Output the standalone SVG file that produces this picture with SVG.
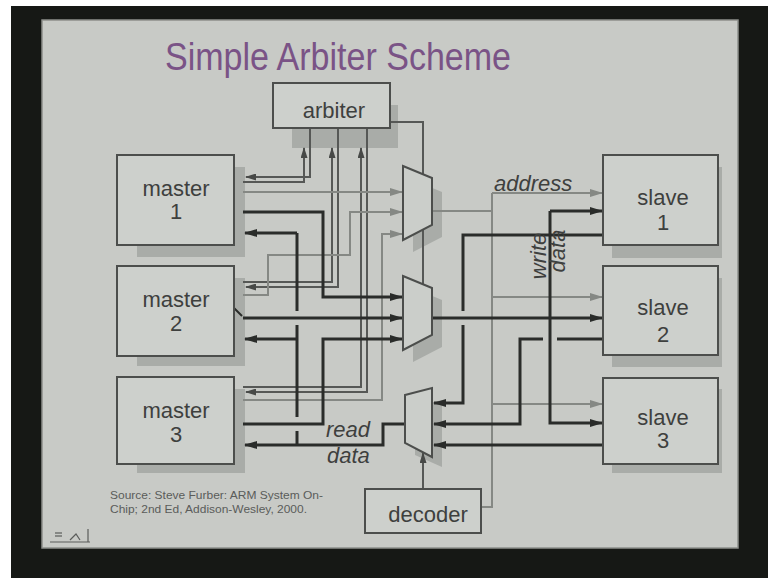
<svg xmlns="http://www.w3.org/2000/svg" width="768" height="578" viewBox="0 0 768 578">
  <defs>
    <style>
      .box { fill: #cdd0cc; stroke: #4c4e4c; stroke-width: 2; }
      .shadow { fill: #a9aca8; }
      .mux { fill: #cbcecA; stroke: #4c4e4c; stroke-width: 2; stroke-linejoin: miter; }
      .lbl { font-family: "Liberation Sans", Arial, sans-serif; font-size: 22px; fill: #3e403e; text-anchor: middle; }
      .ital { font-family: "Liberation Sans", Arial, sans-serif; font-size: 22px; font-style: italic; fill: #3e403e; }
      .data { fill: none; stroke: #2a2c2a; stroke-width: 3; stroke-linejoin: miter; }
      .addr { fill: none; stroke: #858884; stroke-width: 2; stroke-linejoin: miter; }
      .ctl { fill: none; stroke: #565856; stroke-width: 2; stroke-linejoin: miter; }
      .src { font-family: "Liberation Sans", Arial, sans-serif; font-size: 11px; fill: #5a5c5a; }
    </style>
    <marker id="ahd" markerWidth="13" markerHeight="8" refX="12" refY="4" orient="auto" markerUnits="userSpaceOnUse">
      <path d="M0,0 L13,4 L0,8 z" fill="#2a2c2a"/>
    </marker>
    <marker id="aha" markerWidth="13" markerHeight="8" refX="12" refY="4" orient="auto" markerUnits="userSpaceOnUse">
      <path d="M0,0 L13,4 L0,8 z" fill="#858884"/>
    </marker>
    <marker id="ahc" markerWidth="11" markerHeight="7" refX="10" refY="3.5" orient="auto" markerUnits="userSpaceOnUse">
      <path d="M0,0 L11,3.5 L0,7 z" fill="#474947"/>
    </marker>
  </defs>

  <!-- photo frame and slide -->
  <rect x="0" y="0" width="768" height="578" fill="#ffffff"/>
  <rect x="11" y="6" width="757" height="572" fill="#161815"/>
  <rect x="42" y="20" width="696" height="528" fill="#c8cac6" stroke="#8d8f8b" stroke-width="1.5"/>

  <text x="165" y="70" font-family="'Liberation Sans', Arial, sans-serif" font-size="38" fill="#7a5386" textLength="346" lengthAdjust="spacingAndGlyphs">Simple Arbiter Scheme</text>

  <!-- shadows -->
  <g id="shadows">
    <rect class="shadow" x="292" y="105" width="106" height="43"/>
    <rect class="shadow" x="137" y="167" width="108" height="90"/>
    <rect class="shadow" x="137" y="278" width="108" height="88"/>
    <rect class="shadow" x="137" y="389" width="108" height="84"/>
    <rect class="shadow" x="612" y="167" width="110" height="91"/>
    <rect class="shadow" x="612" y="278" width="110" height="89"/>
    <rect class="shadow" x="612" y="389" width="110" height="84"/>
    <polygon class="shadow" points="413,180 442,192 442,237 413,252"/>
    <polygon class="shadow" points="413,288 442,300 442,347 413,362"/>
    <polygon class="shadow" points="415,407 442,400 442,467 415,455"/>
  </g>

  <!-- connectors -->
  <g id="connectors">
    <!-- arbiter request / grant -->
    <polyline class="ctl" points="243,182 304,182 304,148" marker-end="url(#ahc)"/>
    <polyline class="ctl" points="310,128 310,177 246,177" marker-end="url(#ahc)"/>
    <polyline class="ctl" points="243,282 332,282 332,148" marker-end="url(#ahc)"/>
    <polyline class="ctl" points="338,128 338,287 246,287" marker-end="url(#ahc)"/>
    <polyline class="ctl" points="243,387 361,387 361,148" marker-end="url(#ahc)"/>
    <polyline class="ctl" points="367,128 367,392 246,392" marker-end="url(#ahc)"/>
    <!-- arbiter select to muxes -->
    <polyline class="ctl" points="390,122 423,122 423,174"/>
    <line class="ctl" x1="423" y1="230" x2="423" y2="284"/>
    <!-- decoder select to read mux -->
    <line class="ctl" x1="423" y1="489" x2="423" y2="453" marker-end="url(#ahc)"/>

    <!-- master addresses -->
    <line class="addr" x1="243" y1="192" x2="402" y2="192" marker-end="url(#aha)"/>
    <polyline class="addr" points="243,295 268,295 268,255 350,255 350,212 402,212" marker-end="url(#aha)"/>
    <polyline class="addr" points="243,400 382,400 382,234 402,234" marker-end="url(#aha)"/>
    <!-- address bus -->
    <polyline class="addr" points="432,211 492,211"/>
    <polyline class="addr" points="492,193 492,507 481,507"/>
    <line class="addr" x1="492" y1="193" x2="602" y2="193" marker-end="url(#aha)"/>
    <line class="addr" x1="492" y1="297" x2="602" y2="297" marker-end="url(#aha)"/>
    <line class="addr" x1="492" y1="404" x2="602" y2="404" marker-end="url(#aha)"/>

    <!-- master write data -->
    <polyline class="data" points="243,212 323,212 323,297 402,297" marker-end="url(#ahd)"/>
    <line class="data" x1="243" y1="318" x2="402" y2="318" marker-end="url(#ahd)"/>
    <polyline class="data" points="243,424 323,424 323,339 402,339" marker-end="url(#ahd)"/>
    <!-- write data bus -->
    <line class="data" x1="432" y1="318" x2="602" y2="318" marker-end="url(#ahd)"/>
    <polyline class="data" points="550,211 550,423 602,423" marker-end="url(#ahd)"/>
    <line class="data" x1="550" y1="211" x2="602" y2="211" marker-end="url(#ahd)"/>

    <!-- slave read data -->
    <polyline class="data" points="603,235 463,235 463,311"/>
    <polyline class="data" points="463,325 463,403 434,403" marker-end="url(#ahd)"/>
    <line class="data" x1="603" y1="339" x2="557" y2="339"/>
    <polyline class="data" points="543,339 520,339 520,424 434,424" marker-end="url(#ahd)"/>
    <line class="data" x1="603" y1="445" x2="434" y2="445" marker-end="url(#ahd)"/>
    <!-- read data bus -->
    <polyline class="data" points="405,424 383,424 383,445 245,445" marker-end="url(#ahd)"/>
    <line class="data" x1="297" y1="233" x2="297" y2="311"/>
    <line class="data" x1="297" y1="325" x2="297" y2="417"/>
    <line class="data" x1="297" y1="431" x2="297" y2="445"/>
    <line class="data" x1="297" y1="233" x2="245" y2="233" marker-end="url(#ahd)"/>
    <line class="data" x1="297" y1="339" x2="245" y2="339" marker-end="url(#ahd)"/>
    <!-- pointer mark -->
    <line x1="228" y1="302" x2="242" y2="316" stroke="#2a2c2a" stroke-width="2"/>
  </g>

  <!-- multiplexers -->
  <g id="mux-address"><polygon class="mux" points="403,166 432,178 432,225 403,240"/></g>
  <g id="mux-write"><polygon class="mux" points="403,276 432,288 432,335 403,350"/></g>
  <g id="mux-read"><polygon class="mux" points="405,395 432,388 432,457 405,443"/></g>

  <!-- blocks -->
  <g id="arbiter">
    <rect class="box" x="273" y="83" width="117" height="45"/>
    <text class="lbl" x="334" y="118">arbiter</text>
  </g>
  <g id="master1">
    <rect class="box" x="117" y="155" width="117" height="90"/>
    <text class="lbl" x="176" y="196">master</text>
    <text class="lbl" x="176" y="219">1</text>
  </g>
  <g id="master2">
    <rect class="box" x="117" y="266" width="117" height="90"/>
    <text class="lbl" x="176" y="307">master</text>
    <text class="lbl" x="176" y="331">2</text>
  </g>
  <g id="master3">
    <rect class="box" x="117" y="377" width="117" height="87"/>
    <text class="lbl" x="176" y="418">master</text>
    <text class="lbl" x="176" y="442">3</text>
  </g>
  <g id="slave1">
    <rect class="box" x="603" y="155" width="115" height="90"/>
    <text class="lbl" x="663" y="205">slave</text>
    <text class="lbl" x="663" y="230">1</text>
  </g>
  <g id="slave2">
    <rect class="box" x="603" y="266" width="115" height="89"/>
    <text class="lbl" x="663" y="315">slave</text>
    <text class="lbl" x="663" y="342">2</text>
  </g>
  <g id="slave3">
    <rect class="box" x="603" y="378" width="115" height="86"/>
    <text class="lbl" x="663" y="425">slave</text>
    <text class="lbl" x="663" y="448">3</text>
  </g>
  <g id="decoder">
    <rect class="box" x="365" y="489" width="116" height="44"/>
    <text class="lbl" x="428" y="522">decoder</text>
  </g>

  <!-- bus labels -->
  <text class="ital" x="494" y="191">address</text>
  <text class="ital" x="326" y="437">read</text>
  <text class="ital" x="327" y="463">data</text>
  <text class="ital" transform="translate(546,256) rotate(-90)" text-anchor="middle">write</text>
  <text class="ital" transform="translate(565,251) rotate(-90)" text-anchor="middle">data</text>

  <!-- reference -->
  <text class="src" x="110" y="499" textLength="213" lengthAdjust="spacingAndGlyphs">Source: Steve Furber: ARM System On-</text>
  <text class="src" x="110" y="513" textLength="197" lengthAdjust="spacingAndGlyphs">Chip; 2nd Ed, Addison-Wesley, 2000.</text>

  <!-- corner logo -->
  <g id="logo" fill="none" stroke="#5a5c5a" stroke-width="1.2">
    <line x1="50" y1="542" x2="90" y2="542"/>
    <line x1="55" y1="533" x2="62" y2="533"/>
    <line x1="55" y1="536" x2="62" y2="536"/>
    <polyline points="70,540 76,534 80,540"/>
    <line x1="88" y1="529" x2="88" y2="542"/>
  </g>
</svg>
